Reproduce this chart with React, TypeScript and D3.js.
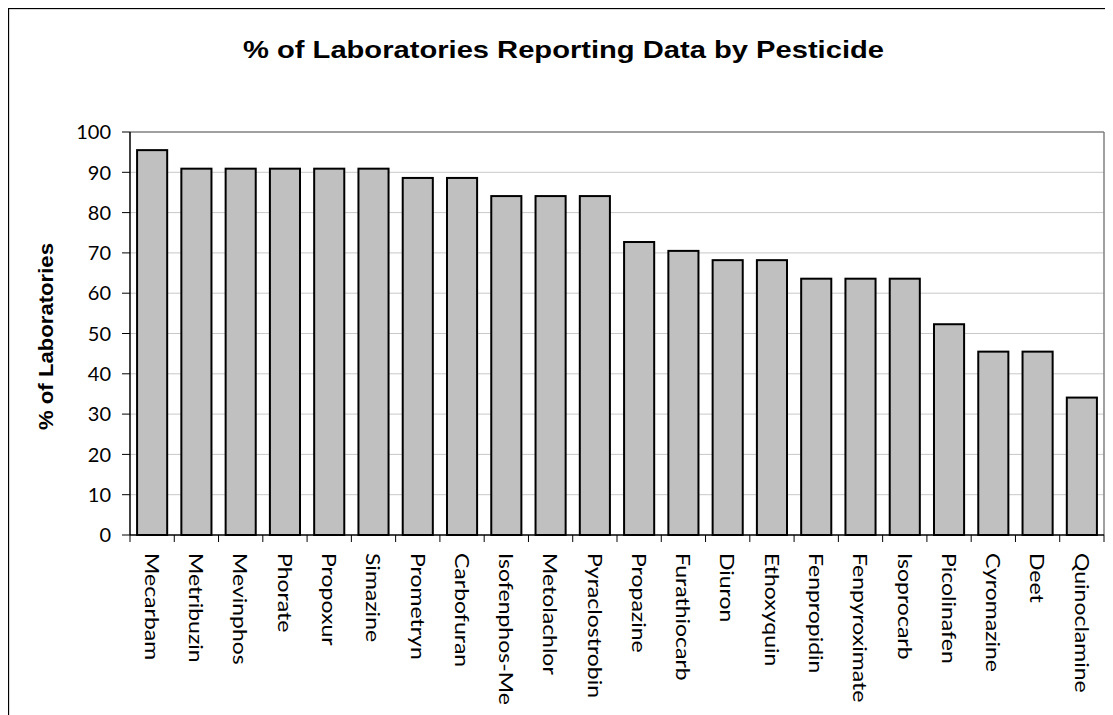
import React, { useEffect, useMemo } from "react";
import * as d3 from "d3";

// pesticide names, in drawing order
const pesticides = [
  "Mecarbam", "Metribuzin", "Mevinphos", "Phorate", "Propoxur", "Simazine",
  "Prometryn", "Carbofuran", "Isofenphos-Me", "Metolachlor", "Pyraclostrobin",
  "Propazine", "Furathiocarb", "Diuron", "Ethoxyquin", "Fenpropidin",
  "Fenpyroximate", "Isoprocarb", "Picolinafen", "Cyromazine", "Deet", "Quinoclamine",
];
// % of laboratories reporting each pesticide
const pctLabs = [
  95.5, 90.9, 90.9, 90.9, 90.9, 90.9,
  88.6, 88.6, 84.1, 84.1, 84.1,
  72.7, 70.5, 68.2, 68.2, 63.6,
  63.6, 63.6, 52.3, 45.5, 45.5, 34.1,
];
const yTicks = [0, 10, 20, 30, 40, 50, 60, 70, 80, 90, 100];

const TITLE = "% of Laboratories Reporting Data by Pesticide";
const Y_TITLE = "% of Laboratories";

// plot area, in page pixels
const PLOT = { left: 130, right: 1104, top: 132, bottom: 535 };
const W = 1105;
const H = 707;
const TICK_FONT = "'Lato', 'DejaVu Sans', sans-serif";
const BOLD_FONT = "'Liberation Sans', Arial, sans-serif";

export default function App() {
  useEffect(() => {
    document.body.style.overflow = "hidden";
    document.documentElement.style.overflow = "hidden";
  }, []);

  const xScale = useMemo(() => d3.scaleBand()
    .domain(pesticides)
    .range([PLOT.left, PLOT.right])
    .paddingInner(0.32)
    .paddingOuter(0.16), []);

  const yScale = useMemo(() => d3.scaleLinear()
    .domain([0, 100])
    .range([PLOT.bottom, PLOT.top]), []);

  const step = xScale.step();
  const bounds = pesticides.map((_, i) => PLOT.left + i * step);
  bounds.push(PLOT.right);

  return (
    <svg width={W} height={H} style={{ display: "block" }}>
      <g transform="translate(-8,-8)">
        <rect x={0} y={0} width={1200} height={800} fill="#fff" />
        {/* outer chart border, runs off the page at right and bottom */}
        <rect x={8.5} y={8.5} width={1200} height={800} fill="none" stroke="#000" strokeWidth={1.3} />

        <text x={243} y={57.5} fontFamily={BOLD_FONT} fontWeight="bold" fontSize={24}
          textLength={641} lengthAdjust="spacingAndGlyphs">{TITLE}</text>

        <text transform="translate(53,336.5) rotate(-90)" textAnchor="middle" fontFamily={BOLD_FONT}
          fontWeight="bold" fontSize={20.5} textLength={187} lengthAdjust="spacingAndGlyphs">{Y_TITLE}</text>

        {/* gridlines */}
        {yTicks.filter((t) => t > 0).map((t) => (
          <line key={t} x1={PLOT.left} x2={PLOT.right} y1={yScale(t)} y2={yScale(t)}
            stroke={t === 100 ? "#808080" : "#c8c8c8"} strokeWidth={t === 100 ? 1.5 : 1} />
        ))}
        <line x1={PLOT.right} x2={PLOT.right} y1={PLOT.top} y2={PLOT.bottom} stroke="#808080" strokeWidth={1.5} />

        {/* bars */}
        {pesticides.map((p, i) => (
          <rect key={p} x={xScale(p)} y={yScale(pctLabs[i])} width={xScale.bandwidth()}
            height={yScale(0) - yScale(pctLabs[i])} fill="#c0c0c0" stroke="#000" strokeWidth={2} />
        ))}

        {/* y axis */}
        <line x1={PLOT.left} x2={PLOT.left} y1={PLOT.top} y2={PLOT.bottom} stroke="#000" strokeWidth={1.5} />
        {yTicks.map((t) => (
          <g key={t} transform={`translate(0,${yScale(t)})`}>
            <line x1={PLOT.left - 8} x2={PLOT.left} stroke="#000" strokeWidth={1} />
            <text x={PLOT.left - 19} dy="0.36em" textAnchor="end" fontFamily={TICK_FONT} fontSize={20}>{t}</text>
          </g>
        ))}

        {/* x axis */}
        <line x1={PLOT.left} x2={PLOT.right} y1={PLOT.bottom} y2={PLOT.bottom} stroke="#000" strokeWidth={1.5} />
        {bounds.map((b, i) => (
          <line key={i} x1={b} x2={b} y1={PLOT.bottom} y2={PLOT.bottom + 7} stroke="#000" strokeWidth={1} />
        ))}
        {pesticides.map((p) => (
          <text key={p}
            transform={`translate(${(xScale(p) ?? 0) + xScale.bandwidth() / 2},${PLOT.bottom + 18}) rotate(90) scale(1.15,1)`}
            dy="0.36em" fontFamily={TICK_FONT} fontSize={20}>{p}</text>
        ))}
      </g>
    </svg>
  );
}
